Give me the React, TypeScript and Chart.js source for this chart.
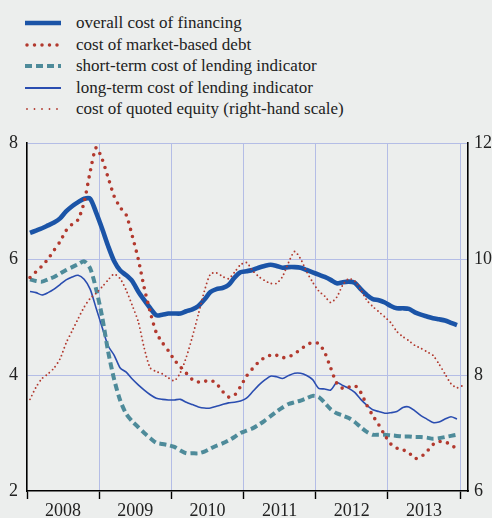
import React, { useEffect, useRef } from "react";
import { Chart, registerables } from "chart.js";

Chart.register(...registerables);

// ---- data (monthly, Jan 2008 onwards) ----
const years = ["2008", "2009", "2010", "2011", "2012", "2013"];

const overallCost = [
  6.45, 6.49, 6.53, 6.58, 6.63, 6.70, 6.82, 6.91, 6.98, 7.04, 7.04, 6.80,
  6.52, 6.22, 5.96, 5.80, 5.72, 5.62, 5.44, 5.29, 5.15, 5.03, 5.04, 5.06,
  5.06, 5.06, 5.10, 5.13, 5.19, 5.30, 5.43, 5.48, 5.50, 5.55, 5.68, 5.77,
  5.79, 5.81, 5.85, 5.88, 5.90, 5.88, 5.85, 5.86, 5.86, 5.85, 5.81, 5.77,
  5.73, 5.69, 5.64, 5.58, 5.60, 5.61, 5.59, 5.48, 5.38, 5.31, 5.29, 5.25,
  5.19, 5.15, 5.15, 5.14, 5.08, 5.04, 5.01, 4.98, 4.96, 4.94, 4.90, 4.86,
];

const marketDebt = [
  5.68, 5.78, 5.88, 6.00, 6.15, 6.30, 6.49, 6.60, 6.68, 6.98, 7.50, 7.92,
  7.72, 7.40, 7.08, 6.89, 6.76, 6.40, 6.00, 5.50, 5.08, 4.73, 4.56, 4.42,
  4.26, 4.14, 4.03, 3.92, 3.88, 3.89, 3.91, 3.85, 3.72, 3.62, 3.65, 3.80,
  3.98, 4.11, 4.22, 4.30, 4.34, 4.34, 4.30, 4.31, 4.37, 4.44, 4.52, 4.56,
  4.54, 4.39, 4.12, 3.86, 3.77, 3.79, 3.82, 3.70, 3.48, 3.30, 3.14, 2.96,
  2.81, 2.74, 2.71, 2.66, 2.56, 2.59, 2.68, 2.80, 2.85, 2.85, 2.79, 2.73,
];

const shortTermLending = [
  5.65, 5.62, 5.61, 5.65, 5.69, 5.75, 5.81, 5.86, 5.91, 5.96, 5.84, 5.48,
  5.00, 4.40, 3.92, 3.56, 3.33, 3.20, 3.10, 3.00, 2.91, 2.83, 2.81, 2.79,
  2.76, 2.70, 2.65, 2.65, 2.65, 2.68, 2.73, 2.78, 2.82, 2.87, 2.93, 3.00,
  3.04, 3.08, 3.14, 3.21, 3.29, 3.37, 3.44, 3.50, 3.53, 3.56, 3.60, 3.64,
  3.62, 3.52, 3.41, 3.34, 3.30, 3.26, 3.19, 3.10, 3.02, 2.97, 2.97, 2.97,
  2.96, 2.95, 2.94, 2.94, 2.93, 2.93, 2.92, 2.90, 2.91, 2.93, 2.95, 2.97,
];

const longTermLending = [
  5.44, 5.42, 5.38, 5.42, 5.48, 5.56, 5.64, 5.69, 5.72, 5.65, 5.48, 5.15,
  4.82, 4.50, 4.34, 4.12, 4.05, 3.93, 3.83, 3.74, 3.66, 3.60, 3.58, 3.57,
  3.57, 3.58, 3.53, 3.49, 3.45, 3.43, 3.43, 3.46, 3.49, 3.52, 3.53, 3.55,
  3.60, 3.71, 3.82, 3.91, 3.98, 3.97, 3.94, 3.99, 4.03, 4.03, 3.99, 3.92,
  3.77, 3.76, 3.74, 3.87, 3.82, 3.77, 3.70, 3.58, 3.48, 3.40, 3.37, 3.34,
  3.35, 3.37, 3.44, 3.45, 3.38, 3.30, 3.24, 3.18, 3.19, 3.24, 3.28, 3.24,
];

// right-hand scale
const quotedEquity = [
  7.58, 7.79, 7.94, 8.02, 8.12, 8.28, 8.55, 8.76, 8.97, 9.17, 9.32, 9.41,
  9.52, 9.64, 9.74, 9.66, 9.46, 9.20, 8.92, 8.46, 8.12, 8.06, 8.02, 7.95,
  7.90, 8.04, 8.31, 8.66, 9.05, 9.45, 9.74, 9.76, 9.70, 9.66, 9.77, 9.90,
  9.94, 9.80, 9.70, 9.63, 9.58, 9.58, 9.70, 9.94, 10.13, 10.00, 9.78, 9.60,
  9.45, 9.36, 9.25, 9.34, 9.55, 9.66, 9.62, 9.47, 9.29, 9.18, 9.09, 9.00,
  8.90, 8.75, 8.66, 8.59, 8.51, 8.46, 8.40, 8.34, 8.19, 8.02, 7.85, 7.78,
  7.82,
];

const leftTicks = [2, 4, 6, 8];
const rightTicks = [6, 8, 10, 12];

const legendLabels = [
  "overall cost of financing",
  "cost of market-based debt",
  "short-term cost of lending indicator",
  "long-term cost of lending indicator",
  "cost of quoted equity (right-hand scale)",
];

// ---- styles ----
const BG = "#eceeed";
const GRID = "#b4bde6";
const C_OVERALL = "#1b54a7";
const C_DEBT = "#b2392e";
const C_SHORT = "#4e8b9a";
const C_LONG = "#2a4db0";
const C_EQUITY = "#b2392e";
const FONT = "'Liberation Serif', Tinos, 'Times New Roman', 'DejaVu Serif', 'Noto Serif', serif";
const TEXT = "#222222";

const toPoints = (arr: number[]) => arr.map((v, i) => ({ x: i + 0.5, y: v }));

const legendStyles = [
  { color: C_OVERALL, width: 4.5, dash: "", cap: "butt" },
  { color: C_DEBT, width: 3.5, dash: "0 7.5", cap: "round" },
  { color: C_SHORT, width: 4, dash: "7 4", cap: "butt" },
  { color: C_LONG, width: 2, dash: "", cap: "butt" },
  { color: C_EQUITY, width: 1.8, dash: "0 7.5", cap: "round" },
];

export default function App() {
  const canvasRef = useRef<HTMLCanvasElement | null>(null);

  useEffect(() => {
    document.body.style.margin = "0";
    const canvas = canvasRef.current;
    if (!canvas) return;

    const yearTicks: number[] = [];
    for (let v = 0; v <= 72; v += 6) yearTicks.push(v);

    const chart = new Chart(canvas, {
      type: "line",
      data: {
        datasets: [
          {
            label: legendLabels[1],
            data: toPoints(marketDebt),
            borderColor: C_DEBT,
            borderWidth: 3.6,
            borderDash: [0, 7.5],
            borderCapStyle: "round",
            pointRadius: 0,
            tension: 0.25,
            yAxisID: "y",
          },
          {
            label: legendLabels[4],
            data: toPoints(quotedEquity),
            borderColor: C_EQUITY,
            borderWidth: 1.9,
            borderDash: [0, 4.2],
            borderCapStyle: "round",
            pointRadius: 0,
            tension: 0.25,
            yAxisID: "y2",
          },
          {
            label: legendLabels[2],
            data: toPoints(shortTermLending),
            borderColor: C_SHORT,
            borderWidth: 4,
            borderDash: [7, 4],
            pointRadius: 0,
            tension: 0.25,
            yAxisID: "y",
          },
          {
            label: legendLabels[3],
            data: toPoints(longTermLending),
            borderColor: C_LONG,
            borderWidth: 1.6,
            pointRadius: 0,
            tension: 0.25,
            yAxisID: "y",
          },
          {
            label: legendLabels[0],
            data: toPoints(overallCost),
            borderColor: C_OVERALL,
            borderWidth: 4.6,
            pointRadius: 0,
            tension: 0.25,
            yAxisID: "y",
          },
        ],
      },
      options: {
        responsive: false,
        animation: false,
        devicePixelRatio: 1,
        layout: { padding: { top: 143, left: 0, right: 0, bottom: 0 } },
        plugins: {
          legend: { display: false },
          tooltip: { enabled: false },
        },
        scales: {
          x: {
            type: "linear",
            min: 0,
            max: 73.33,
            afterBuildTicks: (axis: any) => {
              axis.ticks = yearTicks.map((v) => ({ value: v }));
            },
            afterFit: (scale: any) => {
              scale.height = 27;
            },
            border: { display: true, color: "#000", width: 1.6 },
            grid: {
              color: (ctx: any) =>
                ctx.tick && ctx.tick.value > 0 && ctx.tick.value % 12 === 0 ? GRID : "rgba(0,0,0,0)",
              tickColor: (ctx: any) =>
                ctx.tick && ctx.tick.value % 12 === 0 ? "#000" : "rgba(0,0,0,0)",
              lineWidth: 1,
              tickWidth: 1.4,
              tickLength: 8,
              drawTicks: true,
            },
            ticks: {
              autoSkip: false,
              maxRotation: 0,
              padding: 1,
              color: TEXT,
              font: { family: FONT, size: 18 },
              callback: (value: any) => {
                const v = Number(value);
                if (v % 12 === 6) return years[(v - 6) / 12] ?? "";
                return "";
              },
            },
          },
          y: {
            position: "left",
            min: 2,
            max: 8,
            afterBuildTicks: (axis: any) => {
              axis.ticks = leftTicks.map((v) => ({ value: v }));
            },
            afterFit: (scale: any) => {
              scale.width = 27;
            },
            border: { display: true, color: "#000", width: 1.6 },
            grid: {
              color: (ctx: any) =>
                ctx.tick && ctx.tick.value > 2 ? GRID : "rgba(0,0,0,0)",
              lineWidth: 1,
              drawTicks: false,
            },
            ticks: {
              padding: 9,
              color: TEXT,
              font: { family: FONT, size: 18 },
            },
          },
          y2: {
            position: "right",
            min: 6,
            max: 12,
            afterBuildTicks: (axis: any) => {
              axis.ticks = rightTicks.map((v) => ({ value: v }));
            },
            afterFit: (scale: any) => {
              scale.width = 24;
            },
            border: { display: true, color: "#000", width: 1.6 },
            grid: { drawOnChartArea: false, drawTicks: false },
            ticks: {
              padding: 6,
              color: TEXT,
              font: { family: FONT, size: 18 },
            },
          },
        },
      },
    });

    return () => chart.destroy();
  }, []);

  const rowCenters = [23.3, 44.6, 66.2, 87.7, 109];

  return (
    <div
      style={{
        position: "relative",
        width: 492,
        height: 518,
        background: BG,
        overflow: "hidden",
      }}
    >
      {legendLabels.map((label, i) => {
        const st = legendStyles[i];
        return (
          <div
            key={label}
            style={{
              position: "absolute",
              left: 0,
              top: rowCenters[i] - 11,
              height: 22,
              width: 492,
            }}
          >
            <svg
              width={40}
              height={22}
              style={{ position: "absolute", left: 24, top: 0 }}
            >
              <line
                x1={st.cap === "round" ? 3 : 1}
                y1={11}
                x2={37}
                y2={11}
                stroke={st.color}
                strokeWidth={st.width}
                strokeDasharray={st.dash || undefined}
                strokeLinecap={st.cap as any}
              />
            </svg>
            <span
              style={{
                position: "absolute",
                left: 76,
                top: 0,
                lineHeight: "22px",
                fontFamily: FONT,
                fontSize: 17,
                color: TEXT,
                whiteSpace: "nowrap",
              }}
            >
              {label}
            </span>
          </div>
        );
      })}
      <canvas
        ref={canvasRef}
        width={492}
        height={518}
        style={{ position: "absolute", left: 0, top: 0, width: 492, height: 518 }}
      />
    </div>
  );
}
